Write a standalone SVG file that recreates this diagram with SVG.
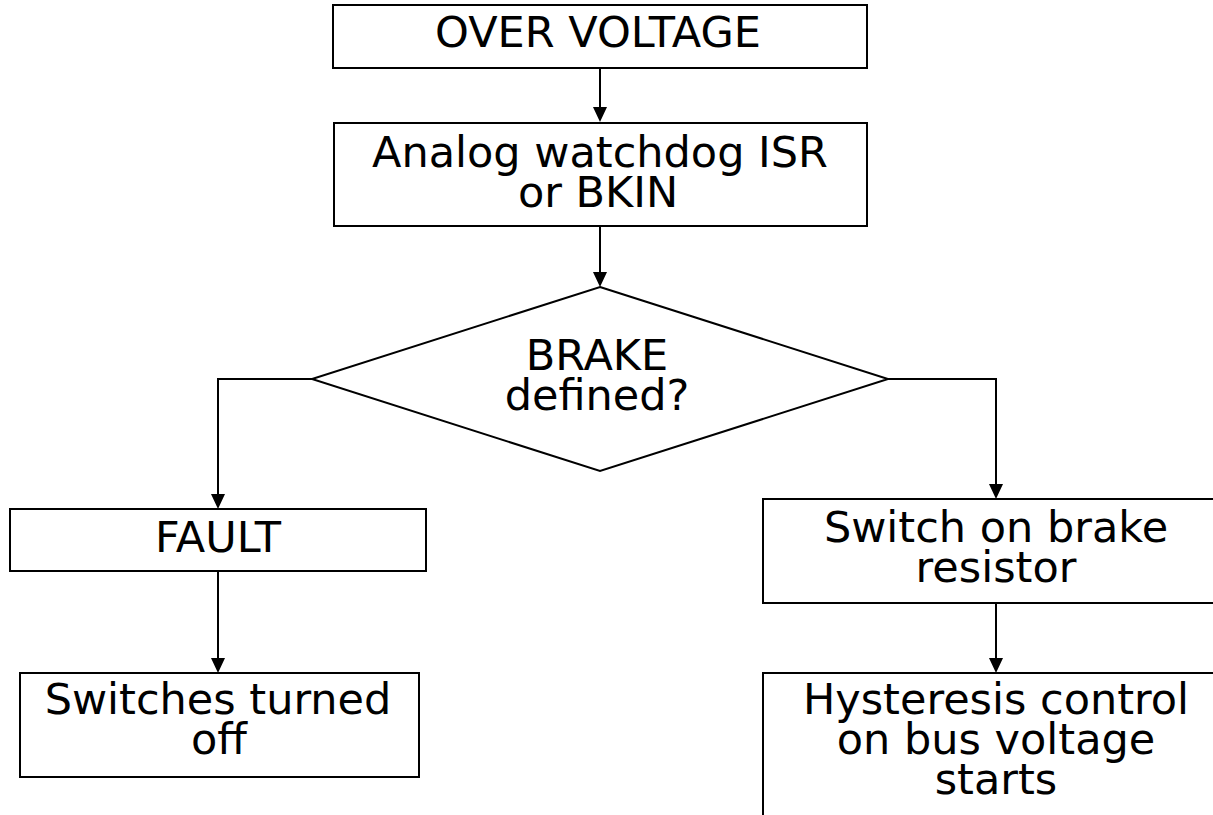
<svg xmlns="http://www.w3.org/2000/svg" width="1213" height="815" viewBox="0 0 1213 815">
<defs>
<style>
.box{fill:#fff;stroke:#000;stroke-width:2}
.t{font-family:"DejaVu Sans",Verdana,sans-serif;font-size:43px;fill:#000;text-anchor:middle}
.c{fill:none;stroke:#000;stroke-width:2}
.ah{fill:#000}
</style>
</defs>
<rect width="1213" height="815" fill="#fff"/>
<g id="n1"><rect class="box" x="333" y="5" width="534" height="63"/><text class="t" x="598" y="47">OVER VOLTAGE</text></g>
<g id="n2"><rect class="box" x="334" y="123" width="533" height="103"/><text class="t" x="600" y="167">Analog watchdog ISR</text><text class="t" x="598" y="207">or BKIN</text></g>
<g id="n3"><polygon class="box" points="600,287 888,379 600,471 312,379"/><text class="t" x="597" y="370">BRAKE</text><text class="t" x="597" y="410">defined?</text></g>
<g id="n4"><rect class="box" x="10" y="509" width="416" height="62"/><text class="t" x="218" y="552">FAULT</text></g>
<g id="n5"><rect class="box" x="20" y="673" width="399" height="104"/><text class="t" x="218" y="714">Switches turned</text><text class="t" x="219" y="754">off</text></g>
<g id="n6"><rect class="box" x="763" y="499" width="466" height="104"/><text class="t" x="996" y="542">Switch on brake</text><text class="t" x="996" y="582">resistor</text></g>
<g id="n7"><rect class="box" x="763" y="673" width="466" height="160"/><text class="t" x="996" y="714">Hysteresis control</text><text class="t" x="996" y="754">on bus voltage</text><text class="t" x="996" y="794">starts</text></g>
<g id="connectors">
<path class="c" d="M600,68 V107"/>
<path class="ah" d="M593,107 L607,107 L600,122 Z"/>
<path class="c" d="M600,226 V272"/>
<path class="ah" d="M593,272 L607,272 L600,287 Z"/>
<path class="c" d="M312,379 H218 V494"/>
<path class="ah" d="M211,494 L225,494 L218,509 Z"/>
<path class="c" d="M888,379 H996 V484"/>
<path class="ah" d="M989,484 L1003,484 L996,499 Z"/>
<path class="c" d="M218,571 V658"/>
<path class="ah" d="M211,658 L225,658 L218,673 Z"/>
<path class="c" d="M996,603 V658"/>
<path class="ah" d="M989,658 L1003,658 L996,673 Z"/>
</g>
</svg>
